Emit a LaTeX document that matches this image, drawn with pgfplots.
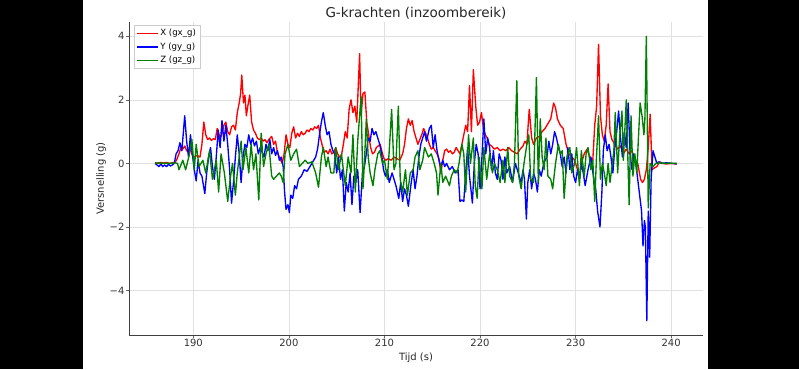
\documentclass[border=0pt]{standalone}
\usepackage{pgfplots}
\pgfplotsset{compat=1.18}
\usepackage{fontspec}
\setmainfont{DejaVu Sans}
\definecolor{mplgreen}{rgb}{0,0.5,0}
\begin{document}
\begin{tikzpicture}[x=1pt,y=1pt]
\fill[black] (0,0) rectangle (83,369);
\fill[white] (83,0) rectangle (708,369);
\fill[black] (708,0) rectangle (799,369);
\begin{axis}[
  at={(129pt,34pt)}, anchor=south west,
  scale only axis, width=574pt, height=313pt,
  xmin=183.27, xmax=243.33, ymin=-5.4, ymax=4.45,
  axis x line*=bottom, axis y line*=left,
  axis line style={-, draw=black!75, line width=0.9pt},
  xtick={190,200,210,220,230,240},
  ytick={-4,-2,0,2,4}, yticklabels={−4,−2,0,2,4},
  tick align=outside, major tick length=3pt,
  tick style={black!60, line width=0.7pt},
  grid=major, grid style={black!12, line width=0.6pt},
  ticklabel style={font=\fontsize{10}{12}\selectfont, text=black!80},
  xticklabel style={yshift=2pt},
  yticklabel style={xshift=2pt},
  /pgf/number format/assume math mode=true,
  title={G-krachten (inzoombereik)},
  title style={font=\fontsize{13.5}{16}\selectfont, text=black!85, yshift=-7pt},
  xlabel={Tijd (s)}, ylabel={Versnelling (g)},
  xlabel style={yshift=1pt},
  ylabel style={yshift=-3pt},
  label style={font=\fontsize{10}{12}\selectfont, text=black!85},
  legend style={at={(0.008,0.99)}, anchor=north west, font=\fontsize{8.6}{10}\selectfont,
    draw=black!20, fill=white, inner sep=2pt, row sep=1.5pt},
  legend cell align=left,
  legend image code/.code={\draw[#1] (0pt,0pt) -- (21pt,0pt);},
]
\addlegendimage{color=red, line width=1.5pt}
\addlegendentry{X (gx\_g)}
\addlegendimage{color=blue, line width=1.5pt}
\addlegendentry{Y (gy\_g)}
\addlegendimage{color=mplgreen, line width=1.5pt}
\addlegendentry{Z (gz\_g)}
\addplot[forget plot, color=red, line width=1.35pt, line join=round] table {
186.0 0.02
186.3 0.0
186.6 0.03
186.9 0.01
187.2 0.03
187.5 0.0
187.8 0.02
188.1 0.03
188.3 0.15
188.5 0.3
188.7 0.5
188.9 0.45
189.1 0.55
189.3 0.4
189.5 0.35
189.7 0.45
189.9 0.25
190.1 0.2
190.4 0.25
190.7 0.2
190.9 0.6
191.1 1.3
191.3 0.9
191.5 0.75
191.7 0.8
191.9 0.72
192.1 0.78
192.3 0.75
192.5 1.1
192.8 0.8
193.0 0.95
193.2 1.2
193.4 1.3
193.6 1.0
193.8 0.9
194.0 1.15
194.2 1.2
194.4 1.05
194.6 1.6
194.8 1.9
194.95 2.2
195.07 2.78
195.25 1.9
195.4 2.15
195.55 1.5
195.7 1.8
195.9 2.15
196.1 1.3
196.3 1.05
196.5 0.95
196.7 0.8
196.9 0.75
197.1 0.8
197.3 0.7
197.5 0.75
197.7 0.65
197.9 0.75
198.2 0.85
198.4 0.6
198.6 0.7
198.8 0.35
199.0 0.2
199.3 0.0
199.5 0.3
199.7 0.9
199.9 0.6
200.1 0.5
200.3 0.95
200.5 1.15
200.7 0.8
200.9 0.95
201.1 0.85
201.3 1.0
201.5 0.9
201.7 0.95
201.9 1.05
202.1 1.0
202.3 1.1
202.5 1.05
202.7 1.15
202.9 1.1
203.1 1.2
203.3 0.8
203.5 0.55
203.7 0.35
203.9 0.4
204.1 0.3
204.3 0.45
204.5 0.3
204.7 0.35
204.9 0.5
205.1 0.3
205.3 0.2
205.5 0.25
205.7 0.6
205.9 1.0
206.1 0.8
206.3 1.7
206.5 2.0
206.7 1.6
206.9 1.8
207.1 1.3
207.4 3.45
207.55 1.5
207.75 2.2
207.95 2.25
208.15 1.3
208.35 0.9
208.55 0.5
208.75 0.3
208.95 0.35
209.15 0.5
209.35 0.55
209.55 0.6
209.75 0.35
209.95 0.15
210.15 0.1
210.4 0.15
210.7 0.1
211.0 0.2
211.3 0.15
211.6 0.1
211.9 0.3
212.1 0.6
212.3 1.1
212.5 1.4
212.7 1.2
212.9 1.35
213.1 1.0
213.3 0.8
213.5 0.6
213.7 0.75
213.9 0.9
214.1 1.1
214.3 0.95
214.5 0.8
214.7 0.6
214.9 0.45
215.1 0.5
215.3 0.4
215.5 0.3
215.7 0.15
215.9 -0.3
216.1 0.1
216.3 0.4
216.5 0.45
216.7 0.35
216.9 0.4
217.1 0.3
217.3 0.35
217.5 0.5
217.7 0.4
217.9 0.3
218.1 0.6
218.3 0.9
218.5 1.2
218.7 1.0
218.9 2.45
219.1 1.0
219.3 2.95
219.55 1.8
219.75 1.2
219.95 1.3
220.15 1.6
220.35 1.1
220.55 0.9
220.75 0.8
220.95 0.6
221.2 0.55
221.5 0.45
221.8 0.5
222.1 0.4
222.4 0.45
222.7 0.4
223.0 0.5
223.3 0.4
223.6 0.35
223.9 0.3
224.2 0.45
224.5 0.55
224.7 0.7
224.9 0.6
225.15 1.7
225.4 0.8
225.6 0.6
225.9 0.8
226.2 0.85
226.5 1.0
226.8 1.1
227.1 1.25
227.4 1.4
227.7 1.9
227.9 1.75
228.1 1.4
228.4 1.2
228.7 1.1
229.0 0.6
229.3 0.3
229.6 0.2
229.9 0.1
230.2 -0.2
230.4 -0.5
230.6 0.0
230.9 0.3
231.2 0.45
231.5 0.2
231.8 0.1
232.0 1.2
232.2 1.8
232.4 3.75
232.6 1.5
232.8 0.9
233.0 0.7
233.2 1.2
233.4 2.5
233.6 1.0
233.8 0.75
234.1 0.6
234.4 0.45
234.7 0.55
235.0 0.3
235.3 0.45
235.6 0.3
235.9 0.4
236.2 0.1
236.5 0.0
236.8 -0.5
237.0 -0.6
237.2 -0.5
237.4 -0.2
237.6 0.5
237.8 1.55
238.0 -0.2
238.2 -0.15
238.5 -0.1
238.8 0.05
239.1 0.0
239.5 -0.02
240.0 0.0
240.6 -0.02
};
\addplot[forget plot, color=blue, line width=1.35pt, line join=round] table {
186.0 0.0
186.2 -0.05
186.4 -0.1
186.6 -0.02
186.8 -0.1
187.0 -0.05
187.2 -0.1
187.4 -0.03
187.6 -0.08
187.8 -0.05
188.0 0.0
188.2 0.3
188.4 0.4
188.6 0.65
188.8 0.4
189.1 1.5
189.3 0.7
189.5 0.2
189.7 0.9
189.9 0.3
190.1 -0.2
190.3 -0.55
190.5 0.1
190.7 -0.3
190.9 -0.4
191.2 -0.95
191.4 -0.3
191.6 0.2
191.8 0.5
192.0 -0.1
192.2 -0.5
192.4 0.2
192.6 1.05
192.8 0.5
193.0 1.35
193.2 0.7
193.4 1.2
193.6 0.6
193.8 -0.2
194.0 -1.25
194.2 -0.6
194.4 0.2
194.6 0.9
194.8 0.3
195.0 -0.6
195.2 0.2
195.4 0.6
195.6 0.5
195.8 0.9
196.0 0.6
196.2 0.8
196.4 0.55
196.6 0.7
196.8 0.3
197.0 0.5
197.2 0.35
197.4 0.2
197.6 0.6
197.8 0.4
198.0 0.75
198.2 0.3
198.4 0.5
198.6 0.25
198.8 0.4
199.0 0.1
199.2 0.2
199.4 -0.1
199.55 -0.9
199.7 -1.45
199.9 -1.3
200.05 -1.55
200.2 -1.0
200.4 -1.1
200.6 -0.7
200.8 -0.8
201.0 -0.5
201.3 -0.4
201.6 -0.2
201.9 -0.25
202.2 -0.1
202.5 0.05
202.8 0.2
203.0 0.45
203.2 0.9
203.4 1.3
203.6 1.6
203.8 1.2
204.0 0.9
204.2 1.0
204.4 0.6
204.6 0.4
204.8 0.3
205.0 -0.3
205.2 0.2
205.4 -0.5
205.6 -0.2
205.8 -1.5
206.0 -0.6
206.2 -0.9
206.4 -0.3
206.6 -1.3
206.8 -0.4
207.0 -0.6
207.2 -0.2
207.45 -1.55
207.7 -0.3
207.9 -0.1
208.1 0.3
208.3 0.8
208.5 0.7
208.7 1.1
208.9 0.9
209.1 1.0
209.3 0.8
209.5 0.6
209.7 0.3
209.9 -0.2
210.1 -0.4
210.3 -0.2
210.5 -0.6
210.8 -0.3
211.0 -0.5
211.2 -0.7
211.5 -1.1
211.7 -0.6
211.9 -1.2
212.1 -0.8
212.3 -1.0
212.5 -1.35
212.8 -0.6
213.0 -0.2
213.2 -0.8
213.4 -0.4
213.6 0.2
213.8 0.6
214.0 0.8
214.2 1.0
214.4 0.7
214.7 1.1
214.9 1.2
215.1 0.5
215.3 0.9
215.5 0.4
215.7 0.1
215.9 -0.1
216.1 0.1
216.3 -0.1
216.5 0.0
216.8 -0.2
217.1 -0.1
217.4 -0.3
217.7 -0.2
217.9 -1.2
218.1 -1.15
218.3 -1.2
218.5 -0.3
218.7 0.5
218.9 -0.4
219.2 -1.25
219.4 0.0
219.6 0.6
219.8 0.3
220.0 -0.8
220.2 0.2
220.4 1.4
220.6 0.3
220.8 0.8
221.0 0.5
221.2 -0.2
221.4 0.4
221.6 -0.3
221.8 -0.5
222.0 0.3
222.2 0.1
222.4 -0.5
222.6 0.2
222.8 -0.3
223.1 -0.1
223.4 -0.6
223.7 0.0
224.0 -0.3
224.3 -0.6
224.5 -0.2
224.65 -0.5
224.85 -1.75
225.0 -0.6
225.2 -0.2
225.4 -0.8
225.6 -0.3
225.8 -0.5
226.0 -0.9
226.2 -0.2
226.4 -0.4
226.6 -0.1
226.8 0.1
227.0 0.2
227.2 0.7
227.4 0.3
227.6 0.6
227.8 1.0
228.0 0.8
228.2 0.5
228.4 0.3
228.6 -0.1
228.8 0.2
229.0 -0.3
229.2 0.5
229.4 -0.2
229.6 0.3
229.8 -0.4
230.0 -0.6
230.2 -0.2
230.4 -0.5
230.6 0.0
230.8 -0.3
231.0 -0.7
231.3 -0.2
231.6 0.2
231.9 -0.5
232.1 -0.8
232.3 -1.5
232.55 -2.0
232.75 -0.9
232.9 0.4
233.1 0.9
233.3 0.4
233.5 0.6
233.7 0.2
233.9 -0.3
234.1 0.5
234.3 1.0
234.5 1.65
234.7 0.8
234.9 0.2
235.1 1.0
235.3 0.5
235.5 1.9
235.7 0.3
235.9 -0.2
236.1 0.3
236.3 0.0
236.5 -0.5
236.7 -1.0
236.9 -1.5
237.05 -2.6
237.2 -1.8
237.3 -2.0
237.45 -4.95
237.6 -1.5
237.75 -2.95
237.9 -0.5
238.1 0.4
238.3 0.2
238.5 0.0
238.7 0.05
239.0 0.0
239.5 0.02
240.0 0.0
240.6 -0.01
};
\addplot[forget plot, color=mplgreen, line width=1.35pt, line join=round] table {
186.0 0.0
186.4 0.02
186.8 0.0
187.2 0.01
187.6 0.0
188.0 0.02
188.35 0.0
188.5 -0.2
188.9 0.1
189.2 -0.2
189.6 0.3
189.85 0.75
190.1 -0.2
190.3 0.6
190.6 -0.1
191.0 0.1
191.3 -0.3
191.7 0.4
192.0 -0.5
192.4 0.1
192.65 -0.9
192.9 0.3
193.25 -0.3
193.6 -1.2
193.85 -0.5
194.1 0.0
194.4 -1.0
194.6 -0.3
195.0 0.7
195.2 -0.2
195.5 0.5
195.8 -0.3
196.05 0.6
196.3 -0.2
196.55 0.3
196.85 -1.15
197.1 0.95
197.35 -0.1
197.6 0.3
197.9 0.6
198.2 -0.4
198.4 -0.5
198.7 -0.4
199.0 -0.3
199.2 -0.4
199.4 -0.6
199.6 0.3
199.9 0.6
200.2 0.1
200.5 0.3
200.8 0.45
201.1 -0.1
201.4 0.0
201.7 0.1
202.0 0.0
202.4 0.05
202.8 -0.3
203.1 -0.75
203.4 0.2
203.6 0.5
203.9 -0.1
204.1 0.2
204.4 -0.3
204.7 -0.3
204.9 0.5
205.2 -0.2
205.5 0.3
205.9 -0.7
206.2 0.2
206.5 -0.3
206.7 0.9
206.95 -0.9
207.2 0.7
207.55 2.1
207.75 -0.8
207.9 0.0
208.1 1.4
208.3 0.2
208.5 -0.3
208.8 -0.7
209.0 -0.2
209.3 0.3
209.5 0.4
209.8 0.0
210.0 0.1
210.3 -0.5
210.5 0.4
210.75 1.7
211.0 -0.2
211.2 0.0
211.45 1.8
211.65 -0.5
211.9 -0.9
212.2 -0.2
212.4 -1.0
212.7 -0.3
213.0 -0.2
213.2 0.2
213.5 0.4
213.7 -0.2
214.0 0.1
214.2 0.5
214.6 0.2
214.9 0.3
215.2 0.0
215.45 -0.3
215.6 -1.0
215.9 0.0
216.1 -0.6
216.4 -0.4
216.8 -0.7
217.0 -0.4
217.3 -0.2
217.6 -0.3
217.8 0.0
218.1 0.6
218.3 0.3
218.5 -0.9
218.8 0.9
219.0 0.0
219.3 0.8
219.5 -0.7
219.7 -1.1
219.9 0.2
220.2 -0.8
220.4 0.5
220.7 -0.5
221.0 0.3
221.3 -0.3
221.5 0.0
221.8 -0.2
222.1 -0.6
222.4 0.1
222.6 -0.6
222.9 0.5
223.1 -0.4
223.4 -0.6
223.6 0.0
223.85 2.6
224.05 -0.4
224.3 -0.8
224.6 0.0
224.9 0.6
225.1 0.9
225.3 -0.5
225.6 -0.6
225.9 2.7
226.1 -0.6
226.3 1.4
226.5 0.2
226.7 -0.2
226.9 0.8
227.1 -0.4
227.4 -0.5
227.6 -0.8
227.9 0.0
228.2 0.6
228.4 0.3
228.6 0.4
228.8 -1.1
229.1 0.2
229.4 0.5
229.6 -0.3
229.9 0.0
230.1 0.5
230.4 -0.7
230.6 0.4
230.9 -0.4
231.1 0.3
231.3 0.5
231.6 -0.2
231.8 0.1
232.0 -1.2
232.2 0.3
232.4 1.5
232.6 -0.5
232.8 0.0
233.0 -0.3
233.2 -0.7
233.4 0.0
233.6 -0.6
233.8 -0.1
234.0 0.4
234.15 1.6
234.4 -0.3
234.6 0.8
234.85 1.65
235.0 0.1
235.3 2.0
235.6 -1.3
235.8 1.5
236.0 -0.4
236.2 0.3
236.4 -0.3
236.75 1.9
236.95 1.5
237.15 0.9
237.25 1.4
237.4 4.0
237.6 -1.4
237.8 0.0
238.1 -0.1
238.4 0.0
238.8 0.02
239.3 0.0
239.8 0.01
240.6 0.0
};
\end{axis}
\end{tikzpicture}
\end{document}
